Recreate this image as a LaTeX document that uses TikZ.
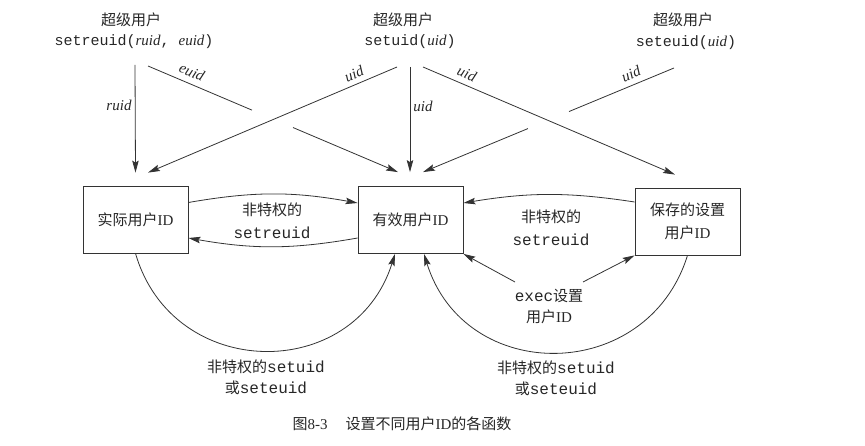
\documentclass[tikz,border=0pt]{standalone}
\usepackage{fontspec}
\setmainfont{Liberation Serif}
\setmonofont{Liberation Mono}
\newfontfamily\cjk{Noto Sans CJK SC}
\usetikzlibrary{arrows.meta,calc}
\newcommand\mytt[1]{{\fontsize{16}{21}\selectfont\ttfamily #1}}
\newcommand\myit[1]{{\rmfamily\itshape #1}}
\begin{document}
\begin{tikzpicture}[x=1pt,y=-1pt,
  txt/.style={inner sep=0pt, text=black!85, font=\fontsize{15}{21}\selectfont, align=center},
  idbox/.style={draw=black!80, line width=0.8pt, minimum width=105pt, minimum height=67pt, inner sep=0pt, text=black!85, font=\fontsize{15}{23}\selectfont, align=center},
  conn/.style={line width=0.8pt, draw=black!80},
  arr/.style={conn, -{Stealth[length=12pt,width=6.5pt,inset=2pt]}},
  lbl/.style={inner sep=0pt, text=black!85, font=\fontsize{15}{18}\selectfont\rmfamily\itshape}
]
\useasboundingbox (0,0) rectangle (865,446);

% callers
\node[txt] (su1) at (131,20) {\cjk 超级用户};
\node[txt] (call1) at (134,42) {\ttfamily setreuid(\myit{ruid}, \myit{euid})};
\node[txt] (su2) at (403,20) {\cjk 超级用户};
\node[txt] (call2) at (410,42) {\ttfamily setuid(\myit{uid})};
\node[txt] (su3) at (683,20) {\cjk 超级用户};
\node[txt] (call3) at (686,43) {\ttfamily seteuid(\myit{uid})};

% boxes
\node[idbox] (real) at (135.5,219.5) {{\cjk 实际用户}ID};
\node[idbox] (eff) at (410.5,220) {{\cjk 有效用户}ID};
\node[idbox] (saved) at (687.5,221.5) {{\cjk 保存的设置}\\{\cjk 用户}ID};

% start points
\coordinate (r1s) at (135,65);
\coordinate (e1s) at (148,66);
\coordinate (u2l) at (397,67);
\coordinate (u2m) at (410,67);
\coordinate (u2r) at (423,67);
\coordinate (u3s) at (674,68);
% end points
\coordinate (realT) at ([yshift=13pt]real.north);
\coordinate (realTR) at ([xshift=12.5pt,yshift=13pt]real.north);
\coordinate (effTL) at ([xshift=-12.5pt,yshift=14pt]eff.north);
\coordinate (effT) at ([xshift=-0.5pt,yshift=14pt]eff.north);
\coordinate (effTR) at ([xshift=12.5pt,yshift=14pt]eff.north);
\coordinate (savedTL) at ([xshift=-12.5pt,yshift=13pt]saved.north);

% top arrows
\draw[arr] (r1s) -- (realT);
\path (e1s) -- (effTL) coordinate[pos=0.416] (g1) coordinate[pos=0.58] (g2);
\draw[conn] (e1s) -- (g1);
\draw[arr] (g2) -- (effTL);
\draw[arr] (u2l) -- (realTR);
\draw[arr] (u2m) -- (effT);
\draw[arr] (u2r) -- (savedTL);
\path (u3s) -- (effTR) coordinate[pos=0.418] (h1) coordinate[pos=0.582] (h2);
\draw[conn] (u3s) -- (h1);
\draw[arr] (h2) -- (effTR);

% top labels
\node[lbl] (lruid) at (119,105) {ruid};
\node[lbl, rotate=-23] (leuid) at (192,72) {euid};
\node[lbl, rotate=23] (luid1) at (354,74) {uid};
\node[lbl] (luid2) at (423,106) {uid};
\node[lbl, rotate=-23] (luid3) at (467,74) {uid};
\node[lbl, rotate=23] (luid4) at (631,74) {uid};

% side arcs
\draw[arr] ([yshift=17pt]real.east) to[bend left=10] ([yshift=17pt]eff.west);
\draw[arr] ([yshift=-18pt]eff.west) to[bend left=10] ([yshift=-18.5pt]real.east);
\draw[arr] ([yshift=19.5pt]saved.west) to[bend right=9] ([yshift=17pt]eff.east);
\node[txt, font=\fontsize{15}{23}\selectfont] (np1) at (272,220.5) {{\cjk 非特权的}\\\mytt{setreuid}};
\node[txt, font=\fontsize{15}{23}\selectfont] (np2) at (551,228) {{\cjk 非特权的}\\\mytt{setreuid}};

% exec
\node[txt] (exec) at (549,306.5) {\mytt{exec}{\cjk 设置}\\{\cjk 用户}ID};
\coordinate (x1) at (515,282);
\coordinate (x2) at (583,282);
\draw[arr] (x1) -- (eff.south east);
\draw[arr] (x2) -- (saved.south west);

% bottom arcs
\draw[arr] (real.south) .. controls (172.6,381.6) and (354.2,383.5) .. ([xshift=-15.5pt]eff.south);
\draw[arr] (saved.south) .. controls (647.4,384.2) and (464.7,385.3) .. ([xshift=13.5pt]eff.south);
\node[txt] (b1) at (266,377.5) {{\cjk 非特权的}\mytt{setuid}\\{\cjk 或}\mytt{seteuid}};
\node[txt] (b2) at (556,378) {{\cjk 非特权的}\mytt{setuid}\\{\cjk 或}\mytt{seteuid}};

% caption
\node[txt] (cap) at (402,424) {{\cjk 图}8-3\hspace{18pt}{\cjk 设置不同用户}ID{\cjk 的各函数}};
\end{tikzpicture}
\end{document}
